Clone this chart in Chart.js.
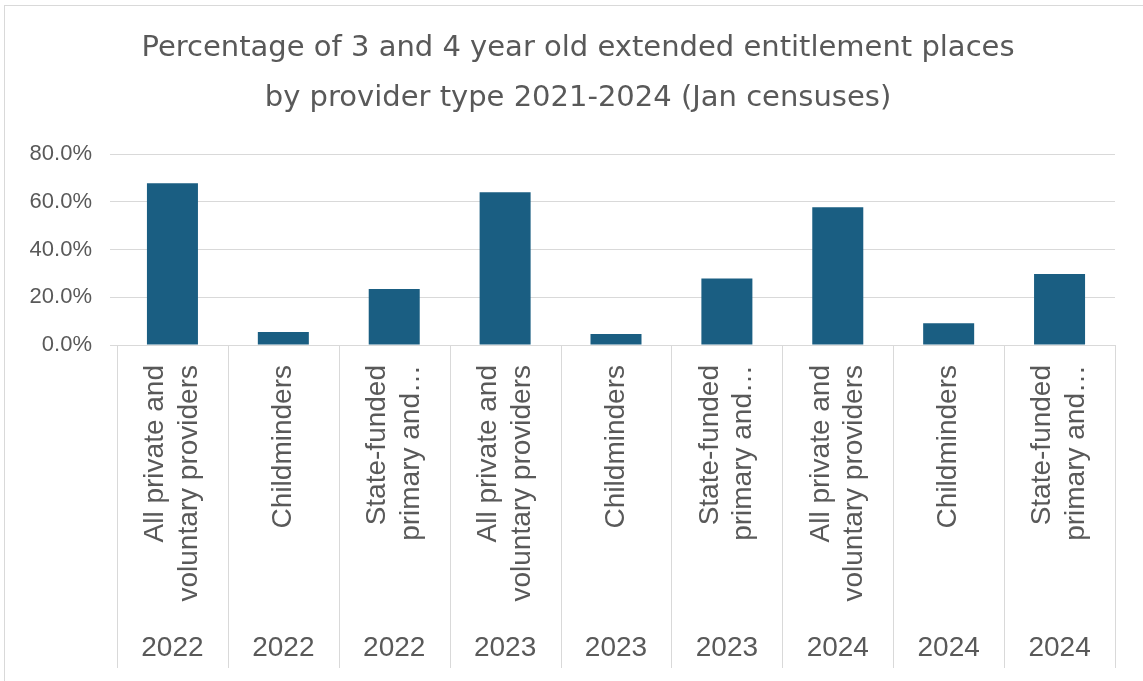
<!DOCTYPE html>
<html>
<head>
<meta charset="utf-8">
<script src="https://cdn.jsdelivr.net/npm/chart.js@4.4.1/dist/chart.umd.min.js"></script>
<style>
  html, body { margin: 0; padding: 0; background: #ffffff; }
  #wrap { position: relative; width: 1143px; height: 681px; overflow: hidden; }
  #frame { position: absolute; left: 4px; top: 5px; width: 1200px; height: 720px;
           border: 1px solid #d9d9d9; box-sizing: border-box; }
  #chart { position: absolute; left: 0; top: 0; }
</style>
</head>
<body>
<div id="wrap">
  <div id="frame"></div>
  <canvas id="chart" width="1143" height="681"></canvas>
</div>
<script>
// Chart title, shown on two lines
const titleLines = [
  'Percentage of 3 and 4 year old extended entitlement places',
  'by provider type 2021-2024 (Jan censuses)'
];

// Census year for each bar (outer axis row)
const years = ['2022', '2022', '2022', '2023', '2023', '2023', '2024', '2024', '2024'];

// Provider type for each bar, split into the lines shown under the bar
const providerLines = [
  ['All private and', 'voluntary providers'],
  ['Childminders'],
  ['State-funded', 'primary and…'],
  ['All private and', 'voluntary providers'],
  ['Childminders'],
  ['State-funded', 'primary and…'],
  ['All private and', 'voluntary providers'],
  ['Childminders'],
  ['State-funded', 'primary and…']
];

// Share of extended entitlement places (%)
const placeShares = [67.7, 5.4, 23.5, 64.0, 4.6, 27.9, 57.7, 9.1, 29.7];

// Value axis range
const axisMin = 0;
const axisMax = 80;
const axisStep = 20;

const TEXT = '#595959';
const RULE = '#d9d9d9';
const BAR = '#1a5e82';
const FONT = '"Liberation Sans", Arial, sans-serif';
const LABEL_SIZE = 28;
const LABEL_LH = 1.2;

// Title drawn centred above the plot
const titlePlugin = {
  id: 'twoLineTitle',
  afterDraw(chart) {
    const ctx = chart.ctx;
    ctx.save();
    ctx.fillStyle = TEXT;
    ctx.font = '29px "DejaVu Sans", sans-serif';
    ctx.textAlign = 'center';
    ctx.textBaseline = 'middle';
    titleLines.forEach((line, i) => ctx.fillText(line, 578, 48 + i * 50));
    ctx.restore();
  }
};

// Vertical rules between categories, running through both label rows
const separatorPlugin = {
  id: 'categorySeparators',
  afterDraw(chart) {
    const xs = chart.scales.x;
    const xo = chart.scales.x2;
    const n = xs.ticks.length;
    const bounds = [xs.left];
    for (let i = 1; i < n; i++) {
      bounds.push((xs.getPixelForTick(i - 1) + xs.getPixelForTick(i)) / 2);
    }
    bounds.push(xs.right);
    const ctx = chart.ctx;
    ctx.save();
    ctx.strokeStyle = RULE;
    ctx.lineWidth = 1;
    ctx.beginPath();
    bounds.forEach(b => {
      const px = Math.round(b) + 0.5;
      ctx.moveTo(px, chart.chartArea.bottom);
      ctx.lineTo(px, xo.bottom - 3);
    });
    ctx.stroke();
    ctx.restore();
  }
};

new Chart(document.getElementById('chart'), {
  type: 'bar',
  data: {
    labels: providerLines.map(l => l.join(' ')),
    datasets: [{
      data: placeShares,
      backgroundColor: BAR,
      borderWidth: 0,
      barPercentage: 0.46,
      categoryPercentage: 1.0,
      xAxisID: 'x',
      yAxisID: 'y'
    }]
  },
  options: {
    responsive: false,
    devicePixelRatio: 1,
    animation: false,
    layout: { padding: { top: 154, right: 28, bottom: 10, left: 0 } },
    plugins: {
      legend: { display: false },
      tooltip: { enabled: false },
      title: { display: false }
    },
    scales: {
      x: {
        type: 'category',
        position: 'bottom',
        offset: true,
        grid: { display: false, drawTicks: false },
        border: { display: true, color: RULE, width: 1 },
        ticks: {
          autoSkip: false,
          minRotation: 90,
          maxRotation: 90,
          padding: 20,
          color: TEXT,
          labelOffset: -(LABEL_SIZE * LABEL_LH) / 2,
          font: (c) => {
            const lines = c && c.index !== undefined ? providerLines[c.index] : null;
            const single = lines && lines.length === 1;
            return { family: FONT, size: LABEL_SIZE, lineHeight: single ? LABEL_LH / 2 : LABEL_LH };
          },
          callback: (v, i) => {
            const lines = providerLines[i];
            return lines.length > 1 ? lines : ['', lines[0]];
          }
        },
        afterFit: (s) => { s.height = 270; s.paddingLeft = 0; s.paddingRight = 0; }
      },
      x2: {
        type: 'category',
        position: 'bottom',
        labels: years,
        offset: true,
        grid: { display: false, drawTicks: false },
        border: { display: false },
        ticks: {
          autoSkip: false,
          maxRotation: 0,
          padding: 16,
          color: TEXT,
          font: { family: FONT, size: 28 }
        },
        afterFit: (s) => { s.height = 56; s.paddingLeft = 0; s.paddingRight = 0; }
      },
      y: {
        min: axisMin,
        max: axisMax,
        grid: { color: RULE, tickColor: RULE, tickLength: 7, drawTicks: true },
        border: { display: false },
        ticks: {
          stepSize: axisStep,
          padding: 18,
          color: TEXT,
          font: { family: FONT, size: 22 },
          callback: (v) => Number(v).toFixed(1) + '%'
        },
        afterFit: (s) => { s.width = 117; }
      }
    }
  },
  plugins: [titlePlugin, separatorPlugin]
});
</script>
</body>
</html>
